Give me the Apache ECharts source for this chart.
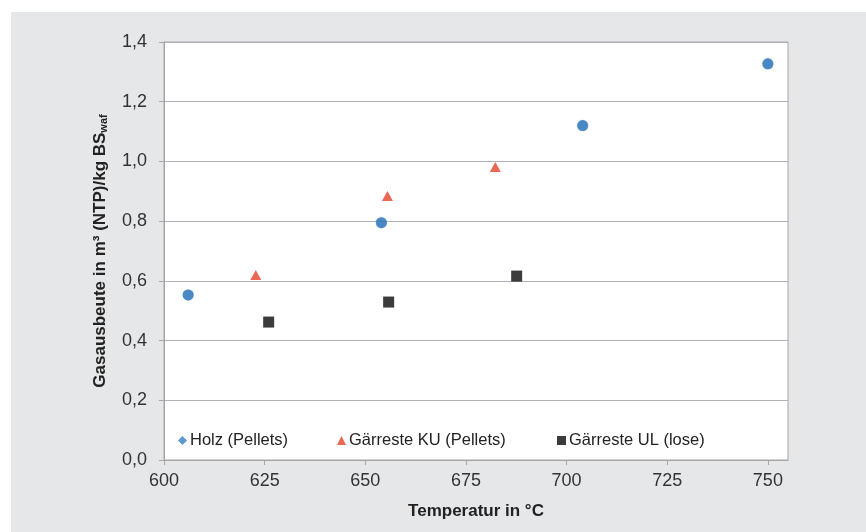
<!DOCTYPE html>
<html><head><meta charset="utf-8">
<script src="https://cdn.jsdelivr.net/npm/echarts@6/dist/echarts.min.js"></script>
<style>html,body{margin:0;padding:0;background:#fff}#c{width:866px;height:532px}</style>
</head><body><div id="c"></div>
<script>
const FONT = '"Liberation Sans", Arial, sans-serif';
const xTicks = [600, 625, 650, 675, 700, 725, 750];
const yTicks = [0, 0.2, 0.4, 0.6, 0.8, 1.0, 1.2, 1.4];
const holzX = [606, 654, 704, 750];
const holzY = [0.553, 0.795, 1.12, 1.327];
const kuX = [622.8, 655.5, 682.3];
const kuY = [0.62, 0.884, 0.981];
const ulX = [626, 655.8, 687.6];
const ulY = [0.462, 0.529, 0.616];
const seriesNames = ['Holz (Pellets)', 'Gärreste KU (Pellets)', 'Gärreste UL (lose)'];

const pairs = (xs, ys) => xs.map((x, i) => [x, ys[i]]);
const chart = echarts.init(document.getElementById('c'), null, {renderer: 'canvas'});
const legendBase = {orient: 'horizontal', itemWidth: 9, itemHeight: 9, itemGap: 4, padding: 0,
  textStyle: {fontFamily: FONT, fontSize: 16.5, color: '#222', padding: [0, 0, 0, -2]}, selectedMode: false};
chart.setOption({
  backgroundColor: '#ffffff',
  animation: false,
  graphic: [{type: 'rect', z: -10, shape: {x: 11, y: 12, width: 900, height: 530}, style: {fill: '#e6e7e9'}}],
  grid: {left: 164, top: 42, right: 78, bottom: 72, show: true, backgroundColor: '#ffffff', borderColor: '#a6a6a6', borderWidth: 1},
  legend: [
    Object.assign({}, legendBase, {data: [{name: seriesNames[0], icon: 'diamond'}], left: 178, top: 432}),
    Object.assign({}, legendBase, {data: [{name: seriesNames[1], icon: 'triangle'}], left: 337, top: 432}),
    Object.assign({}, legendBase, {data: [{name: seriesNames[2], icon: 'rect'}], left: 557, top: 432})
  ],
  xAxis: {
    type: 'value', min: 600, max: 755, interval: 25,
    name: 'Temperatur in °C', nameLocation: 'middle', nameGap: 43,
    nameTextStyle: {fontFamily: FONT, fontSize: 17, fontWeight: 'bold', color: '#222'},
    axisLine: {show: true, lineStyle: {color: '#a6a6a6'}},
    axisTick: {show: true, length: 5, lineStyle: {color: '#a6a6a6'}},
    axisLabel: {fontFamily: FONT, fontSize: 18, color: '#333', margin: 12, showMaxLabel: false,
      formatter: v => xTicks.includes(v) ? String(v) : ''},
    splitLine: {show: false}
  },
  yAxis: {
    type: 'value', min: 0, max: 1.4, interval: 0.2,
    name: '{a|Gasausbeute in m³ (NTP)/kg BS}{s|waf}', nameLocation: 'middle', nameGap: 55,
    nameTextStyle: {rich: {
      a: {fontFamily: FONT, fontSize: 17, fontWeight: 'bold', color: '#222'},
      s: {fontFamily: FONT, fontSize: 11, fontWeight: 'bold', color: '#222', verticalAlign: 'bottom'}
    }},
    axisLine: {show: true, lineStyle: {color: '#a6a6a6'}},
    axisTick: {show: true, length: 5, inside: false, lineStyle: {color: '#a6a6a6'}},
    axisLabel: {fontFamily: FONT, fontSize: 18, color: '#333', margin: 17,
      formatter: v => { const t = yTicks.find(y => Math.abs(y - v) < 1e-9); return t === undefined ? '' : t.toFixed(1).replace('.', ','); }},
    splitLine: {show: true, lineStyle: {color: '#b0b0b8', width: 1}}
  },
  series: [
    {name: seriesNames[0], type: 'scatter', symbol: 'circle', symbolSize: 11, data: pairs(holzX, holzY),
      itemStyle: {color: '#3580c4', shadowBlur: 1, shadowColor: 'rgba(40,80,130,0.6)'}},
    {name: seriesNames[1], type: 'scatter', symbol: 'triangle', symbolSize: [11, 10], data: pairs(kuX, kuY),
      itemStyle: {color: '#e8412a'}},
    {name: seriesNames[2], type: 'scatter', symbol: 'rect', symbolSize: 11, data: pairs(ulX, ulY),
      itemStyle: {color: '#0a0a0a'}}
  ]
});
</script></body></html>
